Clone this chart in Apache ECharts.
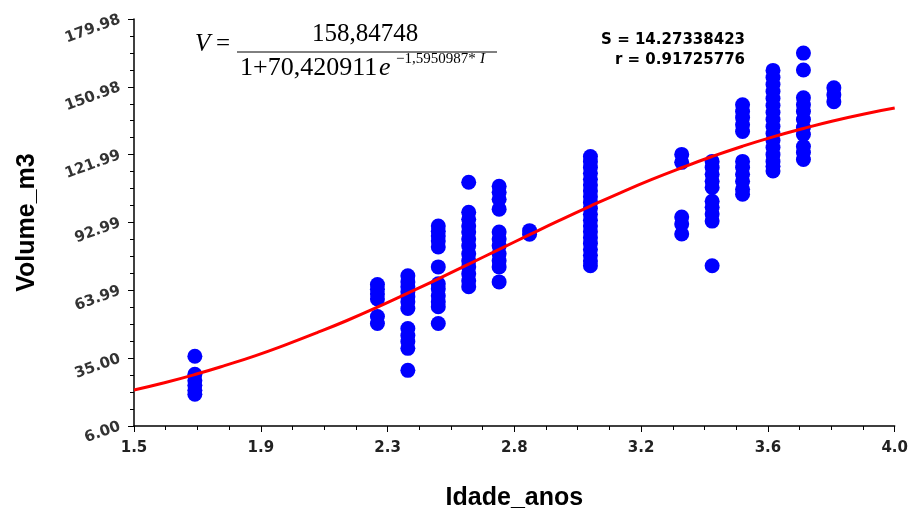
<!DOCTYPE html>
<html>
<head>
<meta charset="utf-8">
<script src="https://cdn.jsdelivr.net/npm/echarts@6/dist/echarts.min.js"></script>
<style>
  html, body { margin: 0; padding: 0; background: #fff; }
  #chart { width: 911px; height: 516px; }
</style>
</head>
<body>
<div id="chart"></div>
<script>
// observed volumes, grouped by age column
const ages = [1.7, 2.3, 2.4, 2.5, 2.6, 2.7, 2.8, 3.0, 3.3, 3.4, 3.5, 3.6, 3.7, 3.8]
const volumesByAge = [
  [35.8, 28.1, 25.5, 23.4, 21.3, 19.6],
  [66.5, 64.5, 62.4, 60.3, 52.8, 49.8],
  [70.2, 67.6, 65.5, 63.4, 61.3, 59.1, 56.2, 47.7, 44.7, 42.1, 39.2, 29.8],
  [91.5, 89.3, 87.2, 85.1, 82.5, 74.0, 66.8, 64.7, 61.7, 59.1, 57.0, 49.8],
  [110.2, 97.4, 94.4, 91.5, 88.9, 85.9, 83.0, 79.6, 76.6, 74.0, 71.1, 68.1, 65.5],
  [108.5, 105.9, 102.9, 98.7, 88.9, 85.9, 83.0, 79.6, 76.6, 74.0, 67.6],
  [89.5, 88.0],
  [121.2, 119, 116.5, 114, 111.5, 109, 106.5, 104, 101.5, 99, 96.5, 94, 91.5, 89, 86.5, 84, 81.5, 79, 76.5, 74.5],
  [122.1, 118.7, 95.3, 92.3, 88.1],
  [119.1, 116.5, 113.6, 110.6, 108.0, 102.1, 99.5, 96.6, 93.6, 74.5],
  [143.3, 140.4, 137.8, 134.8, 131.9, 119.1, 116.5, 113.6, 110.6, 107.2, 105.1],
  [158, 155, 152, 149, 146, 143, 140, 137, 134, 131, 128, 125, 122, 119, 117, 115],
  [165.4, 158.2, 146.3, 143.3, 140.4, 137.0, 133.6, 130.6, 125.5, 122.9, 119.9],
  [150.6, 147.6, 144.6]
]

// fitted curve
const curveAges = [1.5, 1.6, 1.7, 1.8, 1.9, 2.0, 2.1, 2.2, 2.3, 2.4, 2.5, 2.6, 2.7,
  2.8, 2.9, 3.0, 3.1, 3.2, 3.3, 3.4, 3.5, 3.6, 3.7, 3.8, 3.9, 4.0]
const curveVolumes = [21.4, 24.5, 28.0, 31.9, 36.1, 40.8, 45.8, 51.1, 56.8, 62.8, 68.9, 75.2, 81.5,
  87.8, 94.0, 100.0, 105.8, 111.3, 116.4, 121.2, 125.6, 129.6, 133.2, 136.5, 139.4, 141.9]

const xMin = 1.5
const xMax = 4.0
const yMin = 6.00
const yMax = 179.98

let points = []
ages.forEach(function (a, i) {
  for (const v of volumesByAge[i]) {
    points.push([a, v])
  }
})
let curve = curveAges.map(function (a, i) { return [a, curveVolumes[i]] })

let chartDom = document.getElementById('chart')
let myChart = echarts.init(chartDom)

const serif = '"Liberation Serif", "Times New Roman", serif'
const sans = '"DejaVu Sans", sans-serif'

let option = {
  animation: false,
  grid: { left: 134, right: 16, top: 19, bottom: 88 },
  xAxis: {
    type: 'value',
    min: xMin,
    max: xMax,
    interval: (xMax - xMin) / 6,
    name: 'Idade_anos',
    nameLocation: 'middle',
    nameGap: 60,
    nameTextStyle: { fontFamily: '"Liberation Sans", Arial, sans-serif', fontWeight: 'bold', fontSize: 25, color: '#000' },
    axisLine: { lineStyle: { color: '#000', width: 1.5 } },
    axisTick: { length: 6, lineStyle: { color: '#000' } },
    minorTick: { show: true, splitNumber: 4, length: 4, lineStyle: { color: '#000' } },
    splitLine: { show: false },
    axisLabel: {
      margin: 15,
      fontFamily: sans,
      fontWeight: 'bold',
      fontSize: 15,
      color: '#222',
      formatter: function (value) {
        return (value + 1e-9).toFixed(1)
      }
    }
  },
  yAxis: {
    type: 'value',
    min: yMin,
    max: yMax,
    interval: (yMax - yMin) / 6,
    name: 'Volume_m3',
    nameLocation: 'middle',
    nameGap: 94,
    nameTextStyle: { fontFamily: '"Liberation Sans", Arial, sans-serif', fontWeight: 'bold', fontSize: 25, color: '#000' },
    axisLine: { show: true, lineStyle: { color: '#000', width: 1.5 } },
    axisTick: { show: true, length: 6, lineStyle: { color: '#000' } },
    minorTick: { show: true, splitNumber: 4, length: 4, lineStyle: { color: '#000' } },
    splitLine: { show: false },
    axisLabel: {
      margin: 14,
      rotate: 20,
      fontFamily: sans,
      fontWeight: 'bold',
      fontSize: 15,
      color: '#333',
      formatter: function (value) {
        return value.toFixed(2)
      }
    }
  },
  series: [
    {
      type: 'scatter',
      data: points,
      symbol: 'circle',
      symbolSize: 15,
      itemStyle: { color: '#0000ff', opacity: 1 },
      z: 2
    },
    {
      type: 'line',
      data: curve,
      smooth: true,
      showSymbol: false,
      lineStyle: { color: '#ff0000', width: 3 },
      z: 3
    }
  ],
  graphic: [
    { type: 'text', left: 195, top: 32, style: { text: 'V', font: 'italic 25px ' + serif, fill: '#000' } },
    { type: 'text', left: 216, top: 32, style: { text: '=', font: '25px ' + serif, fill: '#000' } },
    { type: 'text', left: 312, top: 22, style: { text: '158,84748', font: '25px ' + serif, fill: '#000' } },
    { type: 'line', shape: { x1: 237, y1: 52, x2: 497, y2: 52 }, style: { stroke: '#000', lineWidth: 1 } },
    { type: 'text', left: 240, top: 55, style: { text: '1+70,420911', font: '26px ' + serif, fill: '#000' } },
    { type: 'text', left: 379, top: 55, style: { text: 'e', font: 'italic 26px ' + serif, fill: '#000' } },
    { type: 'text', left: 396, top: 52, style: { text: '\u22121,5950987*', font: '15px ' + serif, fill: '#000' } },
    { type: 'text', left: 480, top: 52, style: { text: 'I', font: 'italic 15px ' + serif, fill: '#000' } },
    { type: 'text', right: 166, top: 33, style: { text: 'S = 14.27338423', font: 'bold 15px ' + sans, fill: '#000' } },
    { type: 'text', right: 166, top: 53, style: { text: 'r = 0.91725776', font: 'bold 15px ' + sans, fill: '#000' } }
  ]
}
myChart.setOption(option, true)
</script>
</body>
</html>
